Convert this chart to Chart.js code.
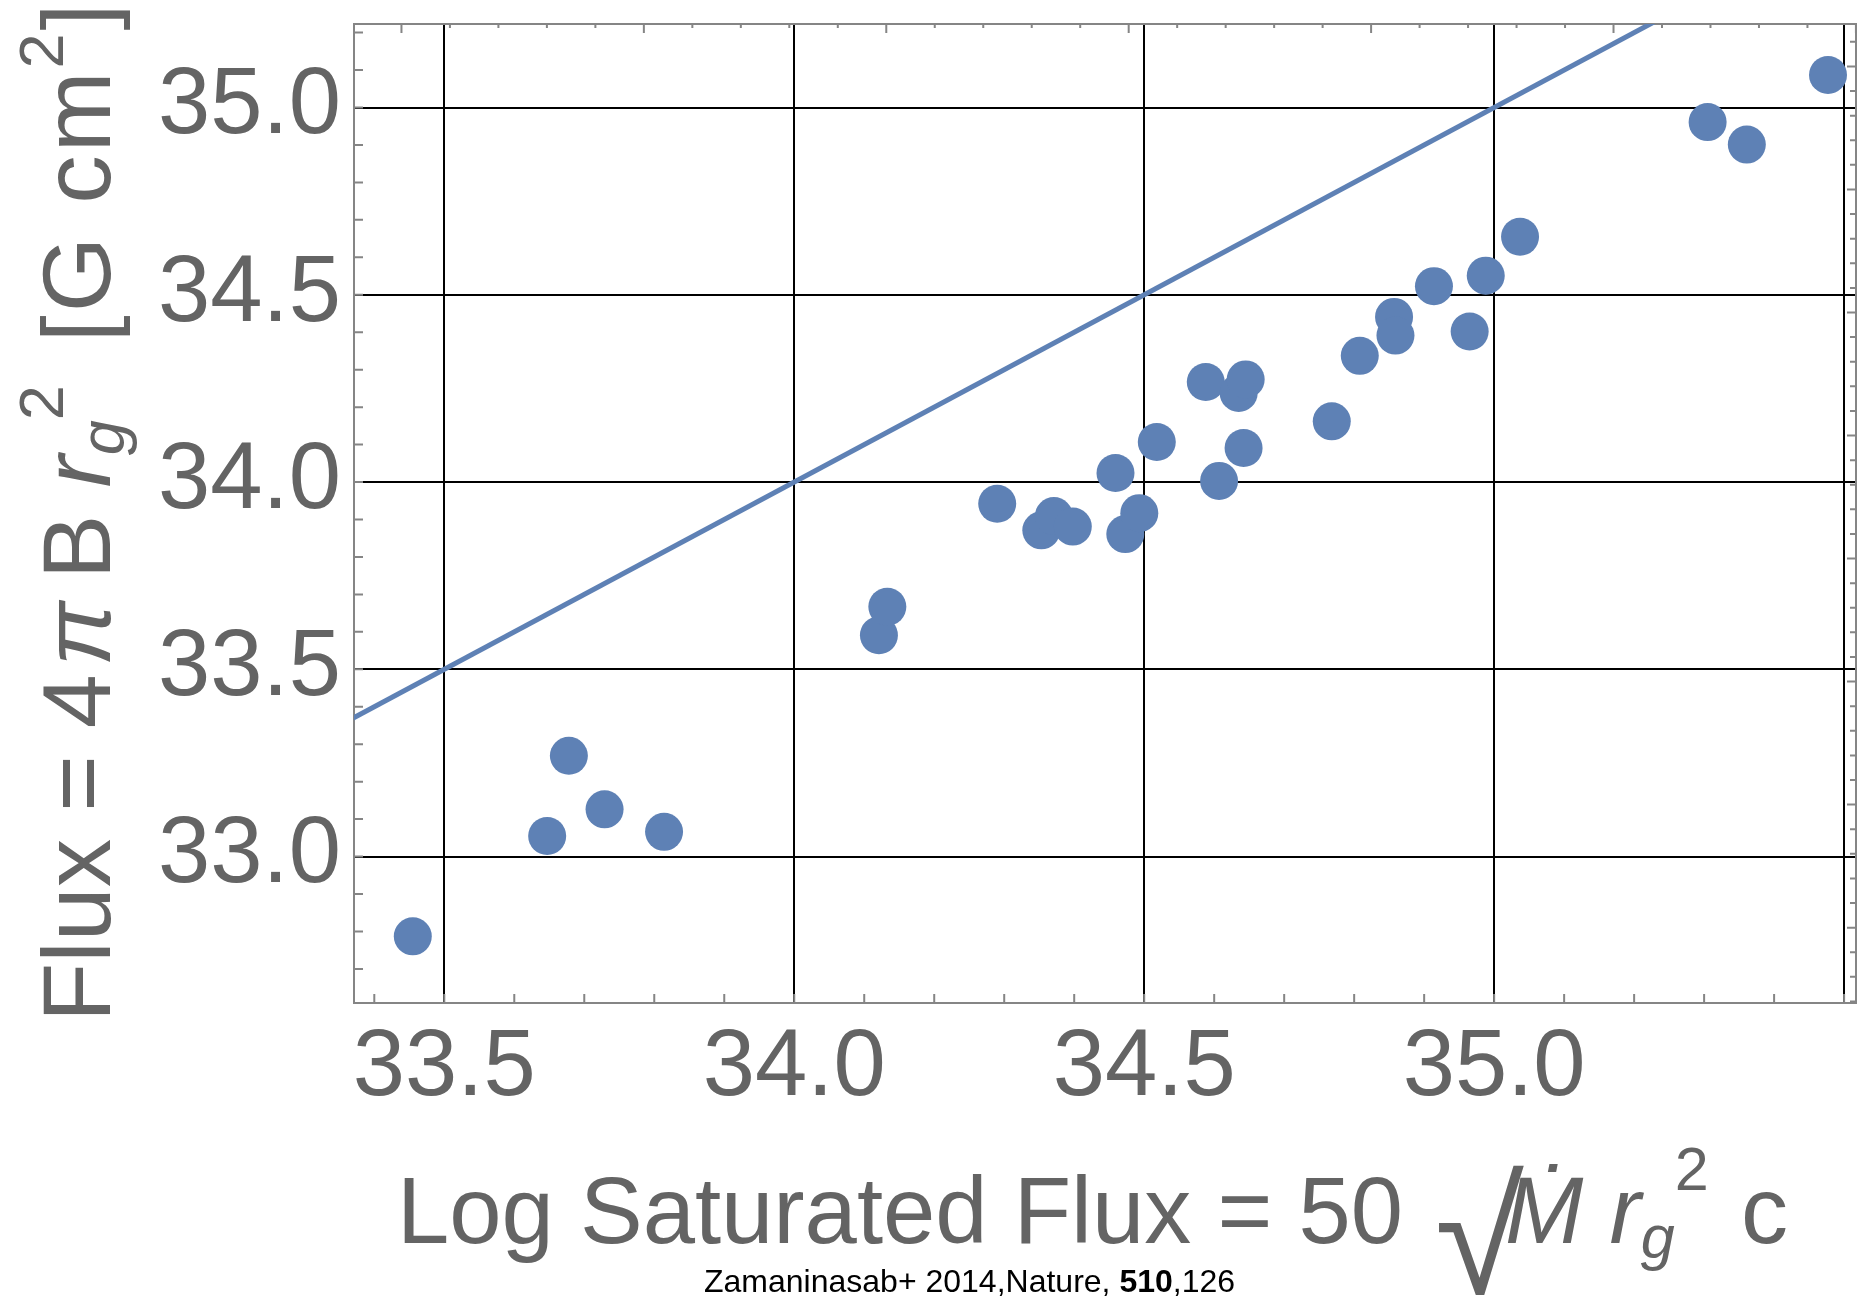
<!DOCTYPE html>
<html>
<head>
<meta charset="utf-8">
<title>Flux vs Log Saturated Flux</title>
<script src="https://cdn.jsdelivr.net/npm/chart.js@4.4.1/dist/chart.umd.min.js"></script>
<style>
  html, body { margin: 0; padding: 0; background: #fff; }
  #wrap { position: relative; width: 1875px; height: 1311px; overflow: hidden; }
  #chart { position: absolute; left: 0; top: 0; }
  .txt {
    position: absolute; left: 0; top: 0; white-space: nowrap; line-height: 1;
    color: #646464; font-family: 'Liberation Sans', Arial, sans-serif;
  }
  .txt sub, .txt sup { font-size: 0.65em; vertical-align: baseline; position: relative; line-height: 0; }
  #ytitle { font-size: 97px; transform-origin: 0 0; transform: translate(28px, 1022px) rotate(-90deg); }
  #ytitle sup { top: -0.74em; }
  #ytitle sub { top: 0.22em; }
  #ytitle .pi { margin-left: 8px; margin-right: 22px; }
  #ytitle .br { margin-left: 16px; letter-spacing: 3px; }
  #xtitle { font-size: 94px; transform: translate(397px, 1164px); }
  #xtitle sup { top: -0.86em; }
  #xtitle sub { top: 0.25em; }
  #xtitle .c { margin-left: 6px; }
  .rad { display: inline-block; position: relative; width: 70px; height: 1px; margin-left: 6px; }
  .rad span {
    position: absolute; left: 0; bottom: -76px; line-height: 1;
    font-family: 'Liberation Sans', sans-serif; font-size: 162px;
  }
  #cite { font-size: 32px; color: #000; transform: translate(704px, 1265px); }
</style>
</head>
<body>
<div id="wrap">
  <canvas id="chart" width="1875" height="1311"></canvas>
  <div id="ytitle" class="txt">Flux = 4<i class="pi">π</i>B <i>r</i><sub><i>g</i></sub><sup>2</sup> <span class="br">[G cm<sup>2</sup>]</span></div>
  <div id="xtitle" class="txt">Log Saturated Flux = 50 <span class="rad"><span>√</span></span><i>Ṁ</i> <i>r</i><sub><i>g</i></sub><sup>2</sup> <span class="c">c</span></div>
  <div id="cite" class="txt">Zamaninasab+ 2014,Nature, <b>510</b>,126</div>
</div>
<script>
// Log saturated flux (x) and measured flux (y), one entry per source
const satFlux = [
  33.455, 33.647, 33.678, 33.729, 33.814, 34.121, 34.133, 34.290, 34.353, 34.371, 34.398,
  34.459, 34.473, 34.493, 34.518, 34.588, 34.607, 34.635, 34.642, 34.645, 34.768, 34.808,
  34.857, 34.859, 34.914, 34.965, 34.988, 35.037, 35.305, 35.361, 35.477
];
const jetFlux = [
  32.787, 33.055, 33.269, 33.126, 33.066, 33.591, 33.667, 33.942, 33.871, 33.909, 33.881,
  34.024, 33.861, 33.917, 34.107, 34.267, 34.003, 34.238, 34.091, 34.274, 34.162, 34.337,
  34.441, 34.391, 34.523, 34.402, 34.551, 34.655, 34.961, 34.901, 35.087
];

// One-to-one line (flux = saturated flux)
const lineX = [33.3, 35.6];
const lineY = [33.3, 35.6];

// Axis ranges, grid values and tick labels
const xRange = [33.371, 35.517];
const yRange = [32.609, 35.223];
const xGridValues = [33.5, 34.0, 34.5, 35.0, 35.5];
const xTickLabels = ['33.5', '34.0', '34.5', '35.0', ''];
const yGridValues = [33.0, 33.5, 34.0, 34.5, 35.0];
const yTickLabels = ['33.0', '33.5', '34.0', '34.5', '35.0'];

// Unlabelled frame ticks on the top and right edges (start, step)
const topTicks = [33.4388, 0.06927];
const rightTicks = [33.7957, 0.0657];

const blue = '#5E81B5';
const frameColor = '#858585';
const labelColor = '#646464';
const fontFamily = "'Liberation Sans', Arial, sans-serif";

// Draws the gray frame and its inward tick marks
const frameTicks = {
  id: 'frameTicks',
  beforeDatasetsDraw(chart) {
    const { ctx, chartArea: a, scales: { x, y } } = chart;
    ctx.save();
    ctx.strokeStyle = frameColor;
    ctx.lineWidth = 2;
    ctx.beginPath();
    // bottom and left: every 0.1
    for (let i = Math.ceil(x.min * 10); i <= Math.floor(x.max * 10); i++) {
      const px = x.getPixelForValue(i / 10);
      ctx.moveTo(px, a.bottom);
      ctx.lineTo(px, a.bottom - 9);
    }
    for (let i = Math.ceil(y.min * 10); i <= Math.floor(y.max * 10); i++) {
      const py = y.getPixelForValue(i / 10);
      ctx.moveTo(a.left, py);
      ctx.lineTo(a.left + 9, py);
    }
    // top
    let k0 = Math.ceil((x.min - topTicks[0]) / topTicks[1]);
    for (let k = k0; topTicks[0] + k * topTicks[1] <= x.max; k++) {
      const px = x.getPixelForValue(topTicks[0] + k * topTicks[1]);
      ctx.moveTo(px, a.top);
      ctx.lineTo(px, a.top + (k % 5 === 0 ? 9 : 4));
    }
    // right
    k0 = Math.ceil((y.min - rightTicks[0]) / rightTicks[1]);
    for (let k = k0; rightTicks[0] + k * rightTicks[1] <= y.max; k++) {
      const py = y.getPixelForValue(rightTicks[0] + k * rightTicks[1]);
      ctx.moveTo(a.right, py);
      ctx.lineTo(a.right - (k % 5 === 0 ? 9 : 6), py);
    }
    ctx.stroke();
    ctx.strokeRect(a.left, a.top, a.right - a.left, a.bottom - a.top);
    ctx.restore();
  }
};

const fluxChart = new Chart(document.getElementById('chart'), {
  type: 'scatter',
  data: {
    datasets: [
      {
        label: 'Sources',
        data: satFlux.map((v, i) => ({ x: v, y: jetFlux[i] })),
        backgroundColor: blue,
        borderWidth: 0,
        pointRadius: 19,
      },
      {
        label: 'Flux = saturated flux',
        data: lineX.map((v, i) => ({ x: v, y: lineY[i] })),
        showLine: true,
        borderColor: blue,
        borderWidth: 5,
        pointRadius: 0,
      },
    ],
  },
  options: {
    responsive: false,
    animation: false,
    events: [],
    layout: { padding: { top: 24, right: 12, left: 0, bottom: 0 } },
    plugins: { legend: { display: false }, tooltip: { enabled: false } },
    scales: {
      x: {
        type: 'linear',
        min: xRange[0],
        max: xRange[1],
        afterBuildTicks: (s) => { s.ticks = xGridValues.map((v) => ({ value: v })); },
        afterFit: (s) => {
          s.height = 308;
          s.paddingLeft = 0;
          s.paddingRight = 0;
        },
        grid: { color: '#000', lineWidth: 2, drawTicks: false },
        border: { display: false },
        ticks: {
          autoSkip: false,
          maxRotation: 0,
          padding: 10,
          color: labelColor,
          font: { family: fontFamily, size: 94 },
          callback: (v, i) => xTickLabels[i],
        },
      },
      y: {
        type: 'linear',
        min: yRange[0],
        max: yRange[1],
        afterBuildTicks: (s) => { s.ticks = yGridValues.map((v) => ({ value: v })); },
        afterFit: (s) => {
          s.width = 354;
          s.paddingTop = 0;
          s.paddingBottom = 0;
        },
        grid: { color: '#000', lineWidth: 2, drawTicks: false },
        border: { display: false },
        ticks: {
          autoSkip: false,
          padding: 13,
          color: labelColor,
          font: { family: fontFamily, size: 94 },
          callback: (v, i) => yTickLabels[i],
        },
      },
    },
  },
  plugins: [frameTicks],
});
</script>
</body>
</html>
